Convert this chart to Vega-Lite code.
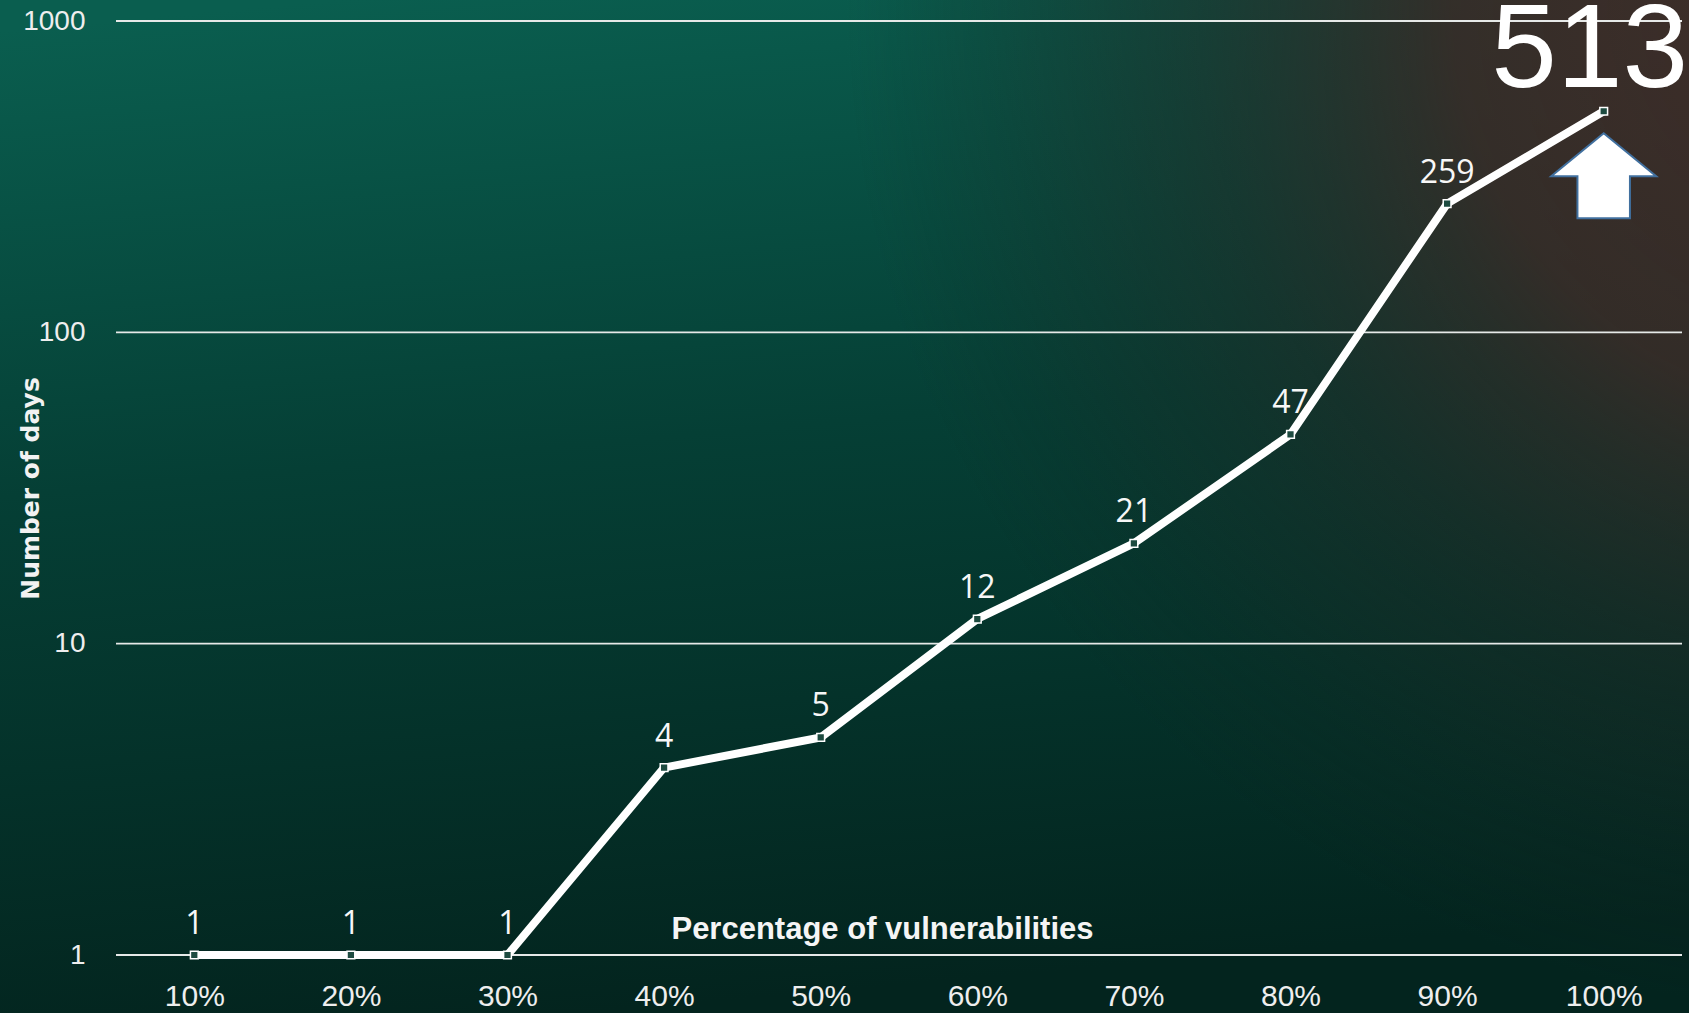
{
  "$schema": "https://vega.github.io/schema/vega-lite/v6.json",
  "width": 1689,
  "height": 1013,
  "autosize": {"type": "none"},
  "padding": 0,
  "background": "#04302a",
  "config": {
    "view": {
      "stroke": null,
      "fill": {
        "gradient": "linear",
        "x1": 0.2, "y1": 0, "x2": 0.35, "y2": 1,
        "stops": [
          {"offset": 0, "color": "#0a5e4f"},
          {"offset": 0.45, "color": "#053f35"},
          {"offset": 1, "color": "#03241e"}
        ]
      }
    }
  },
  "datasets": {
    "patch": [
      {"pct": 10, "days": 1},
      {"pct": 20, "days": 1},
      {"pct": 30, "days": 1},
      {"pct": 40, "days": 4},
      {"pct": 50, "days": 5},
      {"pct": 60, "days": 12},
      {"pct": 70, "days": 21},
      {"pct": 80, "days": 47},
      {"pct": 90, "days": 259},
      {"pct": 100, "days": 513}
    ],
    "grid": [{"v": 1}, {"v": 10}, {"v": 100}, {"v": 1000}]
  },
  "layer": [
    {
      "data": {"values": [{}]},
      "mark": {
        "type": "rect",
        "fill": {
          "gradient": "radial",
          "x1": 1.1, "y1": 0.2, "r1": 0,
          "x2": 1.1, "y2": 0.2, "r2": 0.6,
          "stops": [
            {"offset": 0, "color": "rgba(66,44,40,1)"},
            {"offset": 0.4, "color": "rgba(56,42,38,0.9)"},
            {"offset": 0.65, "color": "rgba(36,38,34,0.5)"},
            {"offset": 1, "color": "rgba(20,35,30,0)"}
          ]
        }
      },
      "encoding": {
        "x": {"value": 0},
        "x2": {"value": "width"},
        "y": {"value": 0},
        "y2": {"value": "height"}
      }
    },
    {
      "data": {"name": "grid"},
      "mark": {"type": "rule", "color": "#e6e9e8", "strokeWidth": 1.8},
      "encoding": {
        "y": {
          "field": "v", "type": "quantitative",
          "scale": {"type": "log", "domain": [1, 1000], "range": [955, 21], "nice": false},
          "axis": {
            "orient": "left",
            "values": [1, 10, 100, 1000],
            "format": "d",
            "grid": false, "domain": false, "ticks": false, "tickSize": 0,
            "labelOverlap": false,
            "labelPadding": -85, "labelAlign": "right", "labelBaseline": "middle",
            "labelFont": "Liberation Sans", "labelFontSize": 28, "labelColor": "#eeeeee",
            "title": "Number of days",
            "titleFont": "DejaVu Sans", "titleFontSize": 25, "titleFontWeight": "bold",
            "titleColor": "#f2f2f2",
            "titleX": 30, "titleY": 488, "titleAngle": -90,
            "titleBaseline": "middle", "titleAlign": "center"
          }
        },
        "x": {
          "datum": 5, "type": "quantitative",
          "scale": {"domain": [5, 105], "range": [116, 1682], "nice": false, "zero": false},
          "axis": {
            "orient": "bottom",
            "values": [10, 20, 30, 40, 50, 60, 70, 80, 90, 100],
            "labelExpr": "datum.value + '%'",
            "grid": false, "domain": false, "ticks": false, "tickSize": 0,
            "labelFlush": false, "labelOverlap": false,
            "labelPadding": -8, "labelBaseline": "alphabetic",
            "labelFont": "Liberation Sans", "labelFontSize": 30, "labelColor": "#eeeeee",
            "title": "Percentage of vulnerabilities",
            "titleFont": "Liberation Sans", "titleFontSize": 31, "titleFontWeight": "bold",
            "titleColor": "#f5f5f5",
            "titleX": 882, "titleY": -84, "titleBaseline": "middle", "titleAlign": "center"
          }
        },
        "x2": {"datum": 105}
      }
    },
    {
      "data": {"name": "patch"},
      "mark": {"type": "line", "color": "#ffffff", "strokeWidth": 8},
      "encoding": {
        "x": {"field": "pct", "type": "quantitative"},
        "y": {"field": "days", "type": "quantitative"}
      }
    },
    {
      "data": {"name": "patch"},
      "mark": {"type": "point", "shape": "square", "size": 60, "filled": true,
               "fill": "#1d4b40", "stroke": "#ffffff", "strokeWidth": 1.5, "opacity": 1},
      "encoding": {
        "x": {"field": "pct", "type": "quantitative"},
        "y": {"field": "days", "type": "quantitative"}
      }
    },
    {
      "data": {"name": "patch"},
      "transform": [{"filter": "datum.pct < 100"}],
      "mark": {"type": "text", "font": "Open Sans", "fontSize": 32, "color": "#f7f7f7",
               "align": "center", "baseline": "alphabetic", "dy": -21},
      "encoding": {
        "x": {"field": "pct", "type": "quantitative"},
        "y": {"field": "days", "type": "quantitative"},
        "text": {"field": "days", "type": "quantitative"}
      }
    },
    {
      "data": {"name": "patch"},
      "transform": [{"filter": "datum.pct == 100"}],
      "mark": {"type": "text", "font": "Liberation Sans", "fontSize": 118, "color": "#ffffff",
               "align": "center", "baseline": "alphabetic", "dx": -14, "dy": -24},
      "encoding": {
        "x": {"field": "pct", "type": "quantitative"},
        "y": {"field": "days", "type": "quantitative"},
        "text": {"field": "days", "type": "quantitative"}
      }
    },
    {
      "data": {"name": "patch"},
      "transform": [{"filter": "datum.pct == 100"}],
      "mark": {
        "type": "point",
        "shape": "M0,-0.82L1,0L0.5,0L0.5,0.8L-0.5,0.8L-0.5,0L-1,0Z",
        "size": 11025, "filled": true, "fill": "#ffffff",
        "stroke": "#41709f", "strokeWidth": 2, "opacity": 1,
        "yOffset": 65
      },
      "encoding": {
        "x": {"field": "pct", "type": "quantitative"},
        "y": {"field": "days", "type": "quantitative"}
      }
    }
  ]
}
